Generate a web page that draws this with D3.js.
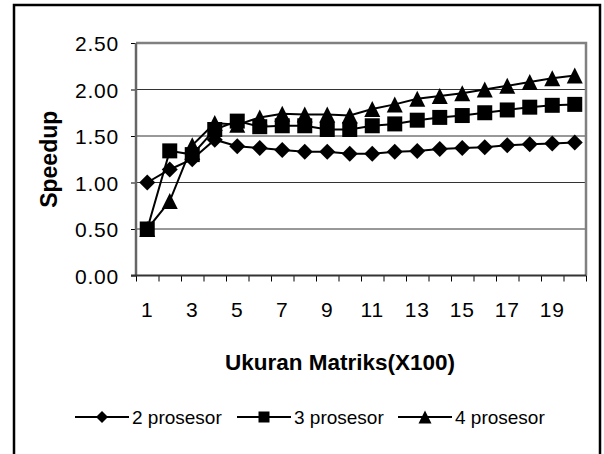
<!DOCTYPE html>
<html>
<head>
<meta charset="utf-8">
<script src="https://cdn.jsdelivr.net/npm/d3@7"></script>
<style>
  body { margin: 0; background: #fff; }
  text { font-family: "Liberation Sans", Arial, sans-serif; fill: #000; }
</style>
</head>
<body>
<div id="chart"></div>
<script>
// matrix size (x100)
const sizes = d3.range(1, 21);
const xLabels = ["1", "3", "5", "7", "9", "11", "13", "15", "17", "19"];
const prosesor2 = [1.00, 1.14, 1.25, 1.46, 1.39, 1.37, 1.35, 1.33, 1.33, 1.31, 1.31, 1.33, 1.34, 1.36, 1.37, 1.38, 1.40, 1.41, 1.42, 1.43];
const prosesor3 = [0.50, 1.34, 1.30, 1.57, 1.66, 1.60, 1.61, 1.61, 1.57, 1.57, 1.61, 1.63, 1.67, 1.70, 1.72, 1.75, 1.78, 1.81, 1.83, 1.84];
const prosesor4 = [0.50, 0.80, 1.40, 1.64, 1.62, 1.70, 1.74, 1.73, 1.73, 1.72, 1.79, 1.84, 1.90, 1.93, 1.96, 2.00, 2.04, 2.08, 2.12, 2.15];
const seriesNames = ["2 prosesor", "3 prosesor", "4 prosesor"];
const yTicks = [0, 0.5, 1.0, 1.5, 2.0, 2.5];

let W = 604, H = 454;
let plot = {left: 136, right: 586, top: 43, bottom: 275.5};

// custom marker shapes (size = half width)
const diamond = { draw(ctx, r) { ctx.moveTo(0, -r); ctx.lineTo(r, 0); ctx.lineTo(0, r); ctx.lineTo(-r, 0); ctx.closePath(); } };
const square = { draw(ctx, r) { ctx.rect(-r, -r, 2 * r, 2 * r); } };
const triangle = { draw(ctx, r) { ctx.moveTo(0, -r); ctx.lineTo(r, r); ctx.lineTo(-r, r); ctx.closePath(); } };

let series = [
  {name: seriesNames[0], values: prosesor2, shape: diamond, r: 8, lr: 6},
  {name: seriesNames[1], values: prosesor3, shape: square, r: 7.5, lr: 5.5},
  {name: seriesNames[2], values: prosesor4, shape: triangle, r: 8, lr: 6.5}
];

let svg = d3.select("#chart").append("svg")
  .attr("width", W).attr("height", H);

// outer chart frame (runs off the bottom)
svg.append("rect")
  .attr("x", 14).attr("y", 5).attr("width", 586).attr("height", 520)
  .attr("fill", "#fff").attr("stroke", "#000").attr("stroke-width", 2.5);

let xBand = d3.scaleBand().domain(sizes).range([plot.left, plot.right]);
let xEdge = d3.scaleLinear().domain([0, sizes.length]).range([plot.left, plot.right]);
let yScale = d3.scaleLinear().domain([0, 2.5]).range([plot.bottom, plot.top]);
let cx = d => xBand(d) + xBand.bandwidth() / 2;

// gridlines
svg.append("g")
  .selectAll("line").data(yTicks.slice(1, -1)).join("line")
  .attr("x1", plot.left).attr("x2", plot.right)
  .attr("y1", d => yScale(d)).attr("y2", d => yScale(d))
  .attr("stroke", "#333").attr("stroke-width", 1);

// plot border top / right
svg.append("path")
  .attr("d", `M${plot.left},${yScale(2.5)}H${plot.right}V${plot.bottom}`)
  .attr("fill", "none").attr("stroke", "#808080").attr("stroke-width", 2.5);

// y axis
let yAxis = d3.axisLeft(yScale).tickValues(yTicks).tickFormat(d3.format(".2f")).tickSize(5).tickPadding(12);
let gy = svg.append("g").attr("transform", `translate(${plot.left},0)`).call(yAxis);
gy.select(".domain").remove();
gy.selectAll(".tick line").attr("stroke", "#000");
gy.selectAll(".tick text")
  .style("font-family", "'Liberation Sans', Arial, sans-serif")
  .style("font-size", "21px").style("letter-spacing", "0.8px").attr("dy", "0.36em");
svg.append("line")
  .attr("x1", plot.left).attr("x2", plot.left)
  .attr("y1", yScale(2.5)).attr("y2", plot.bottom)
  .attr("stroke", "#666").attr("stroke-width", 2.5);

// x axis ticks at category edges
let xTickAxis = d3.axisBottom(xEdge).tickValues(d3.range(0, sizes.length + 1)).tickFormat("").tickSize(6);
let gx = svg.append("g").attr("transform", `translate(0,${plot.bottom})`).call(xTickAxis);
gx.select(".domain").remove();
gx.selectAll(".tick line").attr("stroke", "#000");
svg.append("line")
  .attr("x1", plot.left - 5).attr("x2", plot.right)
  .attr("y1", plot.bottom).attr("y2", plot.bottom)
  .attr("stroke", "#333").attr("stroke-width", 2);

// x labels (odd sizes only)
svg.append("g").selectAll("text").data(xLabels).join("text")
  .attr("x", d => cx(+d)).attr("y", 317)
  .style("text-anchor", "middle").style("font-size", "21px").style("letter-spacing", "0.8px")
  .text(d => d);

// axis titles
svg.append("text")
  .attr("x", 340).attr("y", 370)
  .style("text-anchor", "middle").style("font-weight", "bold").style("font-size", "22.5px")
  .text("Ukuran Matriks(X100)");

svg.append("text")
  .attr("transform", `translate(57,${(plot.top + plot.bottom) / 2}) rotate(-90)`)
  .style("text-anchor", "middle").style("font-weight", "bold").style("font-size", "23px")
  .text("Speedup");

// lines + markers
let line = d3.line()
  .x((d, i) => cx(sizes[i]))
  .y(d => yScale(d));

series.forEach(function(s) {
  svg.append("path")
    .datum(s.values)
    .attr("d", line)
    .attr("fill", "none").attr("stroke", "#000").attr("stroke-width", 2);
});
series.forEach(function(s) {
  svg.append("g").selectAll("path").data(s.values).join("path")
    .attr("transform", (d, i) => `translate(${cx(sizes[i])},${yScale(d)})`)
    .attr("d", d3.symbol().type(s.shape).size(s.r))
    .attr("fill", "#000");
});

// legend
let legendX = [75, 237, 398];
let legendY = 417;
series.forEach(function(s, i) {
  let g = svg.append("g").attr("transform", `translate(${legendX[i]},${legendY})`);
  g.append("line").attr("x1", 0).attr("x2", 54).attr("y1", 0).attr("y2", 0)
    .attr("stroke", "#000").attr("stroke-width", 2);
  g.append("path").attr("transform", "translate(27,0)")
    .attr("d", d3.symbol().type(s.shape).size(s.lr)).attr("fill", "#000");
  g.append("text").attr("x", 57).attr("y", 7)
    .style("font-size", "19px")
    .text(s.name);
});
</script>
</body>
</html>
